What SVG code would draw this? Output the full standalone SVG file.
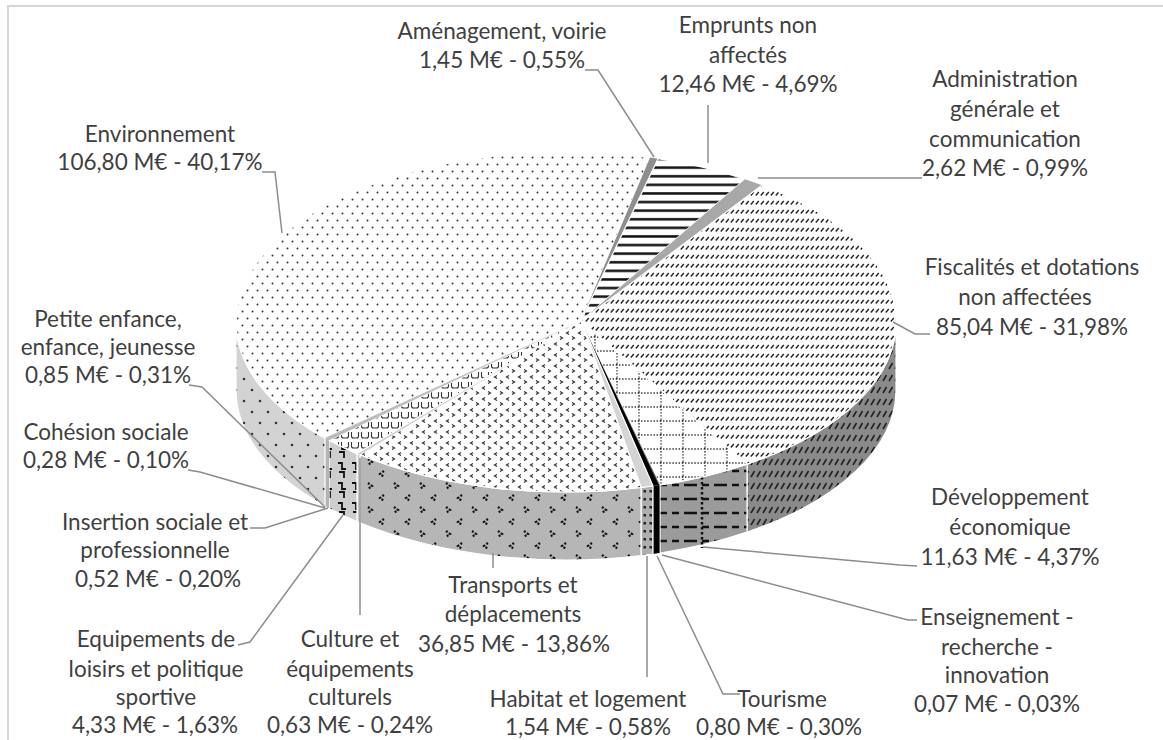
<svg xmlns="http://www.w3.org/2000/svg" width="1163" height="740" viewBox="0 0 1163 740">
<style>
.lbl{font-family:Lato,"Liberation Sans",sans-serif;font-size:22.5px;fill:#3f3f3f;text-anchor:middle}
.ldr{fill:none;stroke:#8c8c8c;stroke-width:1.5}
.sl{stroke:#ffffff;stroke-width:1.2;stroke-linejoin:round}
</style>
<defs>
<pattern id="pEnvTop" width="10" height="14" patternUnits="userSpaceOnUse">
<rect width="10" height="14" fill="#fff"/>
<circle cx="2.5" cy="3.5" r="1" fill="#333"/><circle cx="7.5" cy="10.5" r="1" fill="#333"/>
</pattern>
<pattern id="pEnvWall" width="16" height="22" patternUnits="userSpaceOnUse">
<rect width="16" height="22" fill="#d3d3d3"/>
<circle cx="4" cy="5" r="1.3" fill="#333"/><circle cx="12" cy="16" r="1.3" fill="#333"/>
</pattern>
<pattern id="pTrTop" width="12" height="11" patternUnits="userSpaceOnUse">
<rect width="12" height="11" fill="#fff"/>
<path d="M5,1.5 L2.5,3 L5,4.5 M8,6.5 L10.5,8 L8,9.5" fill="none" stroke="#333" stroke-width="1.2"/>
</pattern>
<pattern id="pTrWall" width="26" height="24" patternUnits="userSpaceOnUse">
<rect width="26" height="24" fill="#b6b6b6"/>
<path d="M4,3 L8,6 L4,9 M20,15 L16,18 L20,21" fill="none" stroke="#111" stroke-width="2.2" stroke-dasharray="2 1.5"/>
</pattern>
<pattern id="pFiTop" width="5" height="9" patternUnits="userSpaceOnUse">
<rect width="5" height="9" fill="#fff"/>
<path d="M0.8,6.5 L3.8,3" stroke="#222" stroke-width="1.4"/>
</pattern>
<pattern id="pFiWall" width="6" height="12" patternUnits="userSpaceOnUse">
<rect width="6" height="12" fill="#8a8a8a"/>
<path d="M1,9 L4.5,3" stroke="#1e1e1e" stroke-width="1.5"/>
</pattern>
<pattern id="pDevTop" width="22" height="14" patternUnits="userSpaceOnUse">
<rect width="22" height="14" fill="#fff"/>
<path d="M0,1 H22 M1,0 V14" stroke="#222" stroke-width="1.3" stroke-dasharray="1.3 1.8"/>
</pattern>
<pattern id="pDevWall" width="30" height="28" patternUnits="userSpaceOnUse">
<rect width="30" height="28" fill="#9b9b9b"/>
<path d="M0,9 H30 M0,23 H30" stroke="#111" stroke-width="2.5" stroke-dasharray="7 5"/>
</pattern>
<pattern id="pEmp" width="10" height="8.6" patternUnits="userSpaceOnUse">
<rect width="10" height="8.6" fill="#fff"/>
<rect y="3" width="10" height="2.5" fill="#111"/>
</pattern>
<pattern id="pEqTop" width="10" height="10" patternUnits="userSpaceOnUse">
<rect width="10" height="10" fill="#fff"/>
<path d="M1.5,2 V6 Q1.5,8 3.5,8 H6.5 Q8.5,8 8.5,6 V2" fill="none" stroke="#333" stroke-width="1.1"/>
</pattern>
<pattern id="pEqWall" width="14" height="20" patternUnits="userSpaceOnUse">
<rect width="14" height="20" fill="#cdcdcd"/>
<path d="M2,3 H6 V9 H10 M3,12 H8 V18" fill="none" stroke="#111" stroke-width="1.8"/>
</pattern>
<pattern id="pHabWall" width="6" height="8" patternUnits="userSpaceOnUse">
<rect width="6" height="8" fill="#aeaeae"/>
<rect x="1.5" y="2" width="2.5" height="2.5" fill="#222"/>
</pattern>
</defs>

<rect x="0" y="0" width="1163" height="740" fill="#fff"/>
<rect x="8" y="6" width="1160" height="800" fill="none" stroke="#d6d6d6" stroke-width="2"/>

<g id="walls">
<path class="sl" fill="url(#pFiWall)" d="M896,322 A330,170 0 0 1 747,464.1 L747,532.1 A330,170 0 0 0 896,390 Z"/>
<path class="sl" fill="url(#pDevWall)" d="M747,464.1 A330,170 0 0 1 660,485 L660,553 A330,170 0 0 0 747,532.1 Z"/>
<path d="M702,477 V548" stroke="#111" stroke-width="2.5" stroke-dasharray="2.5 2.5"/>
<path fill="#666" d="M660,485 A330,170 0 0 1 659,485.1 L659,553.1 A330,170 0 0 0 660,553 Z"/>
<path fill="#000" d="M659,485.1 A330,170 0 0 1 653,486 L653,554 A330,170 0 0 0 659,553.1 Z"/>
<path class="sl" fill="url(#pHabWall)" d="M653,486 A330,170 0 0 1 641,487.5 L641,555.5 A330,170 0 0 0 653,554 Z"/>
<path class="sl" fill="url(#pTrWall)" d="M641,487.5 A330,170 0 0 1 360,454.8 L360,522.8 A330,170 0 0 0 641,555.5 Z"/>
<path class="sl" fill="#c8c8c8" d="M360,454.8 A330,170 0 0 1 357,453.6 L357,521.6 A330,170 0 0 0 360,522.8 Z"/>
<path class="sl" fill="url(#pEqWall)" d="M357,453.6 A330,170 0 0 1 329,440.3 L329,508.3 A330,170 0 0 0 357,521.6 Z"/>
<path fill="#b5b5b5" d="M329,440.3 A330,170 0 0 1 325,438.1 L325,506.1 A330,170 0 0 0 329,508.3 Z"/>
<path class="sl" fill="url(#pEnvWall)" d="M325,438.1 A330,170 0 0 1 236,322 L236,390 A330,170 0 0 0 325,506.1 Z"/>
</g>

<g id="slice-environnement"><path class="sl" fill="url(#pEnvTop)" d="M581,321 L325,438.1 A330,170 0 0 1 650,157.6 Z"/></g>
<g id="slice-amenagement"><path fill="#8f8f8f" d="M581,321 L650,157.6 A330,170 0 0 1 658,158.7 Z"/></g>
<g id="slice-emprunts"><path class="sl" fill="url(#pEmp)" d="M581,321 L658,158.7 A330,170 0 0 1 745,179.2 Z"/></g>
<g id="slice-administration"><path fill="#a8a8a8" d="M581,321 L745,179.2 A330,170 0 0 1 762,185.2 Z"/></g>
<g id="slice-fiscalites"><path class="sl" fill="url(#pFiTop)" d="M581,321 L762,185.2 A330,170 0 0 1 747,464.1 Z"/></g>
<g id="slice-developpement"><path class="sl" fill="url(#pDevTop)" d="M581,321 L747,464.1 A330,170 0 0 1 660,485 Z"/></g>
<g id="slice-enseignement"><path fill="#666" d="M581,321 L660,485 A330,170 0 0 1 659,485.1 Z"/></g>
<g id="slice-tourisme"><path fill="#000" d="M581,321 L659,485.1 A330,170 0 0 1 653,486 Z"/></g>
<g id="slice-habitat"><path class="sl" fill="#d4d4d4" d="M581,321 L653,486 A330,170 0 0 1 641,487.5 Z"/></g>
<g id="slice-transports"><path class="sl" fill="url(#pTrTop)" d="M581,321 L641,487.5 A330,170 0 0 1 360,454.8 Z"/></g>
<g id="slice-culture"><path fill="#d0d0d0" d="M581,321 L360,454.8 A330,170 0 0 1 357,453.6 Z"/></g>
<g id="slice-equipements"><path class="sl" fill="url(#pEqTop)" d="M581,321 L357,453.6 A330,170 0 0 1 329,440.3 Z"/></g>
<g id="slice-insertion"><path fill="#bbbbbb" d="M581,321 L329,440.3 A330,170 0 0 1 327.5,439.5 Z"/></g>
<g id="slice-cohesion"><path fill="#999" d="M581,321 L327.5,439.5 A330,170 0 0 1 326.5,438.9 Z"/></g>
<g id="slice-petite-enfance"><path fill="#bbbbbb" d="M581,321 L326.5,438.9 A330,170 0 0 1 325,438.1 Z"/></g>

<g id="connectors">
<polyline class="ldr" points="262,172 275,172 282,233"/>
<polyline class="ldr" points="585,70 598,70 654,157"/>
<polyline class="ldr" points="708,105 708,163"/>
<polyline class="ldr" points="758,178 922,178"/>
<polyline class="ldr" points="893,322 915,334 930,334"/>
<polyline class="ldr" points="703,547 900,565 917,566"/>
<polyline class="ldr" points="662,555 908,620 917,620"/>
<polyline class="ldr" points="657,556 723,694 740,694"/>
<polyline class="ldr" points="647,556 647,677"/>
<polyline class="ldr" points="493,553 493,568"/>
<polyline class="ldr" points="360,458 360,615"/>
<polyline class="ldr" points="343,515 250,642 238,645"/>
<polyline class="ldr" points="328,508 265,528 250,528"/>
<polyline class="ldr" points="325,508 200,472 188,470"/>
<polyline class="ldr" points="325,507 202,387 189,385"/>
</g>

<g id="label-environnement"><text class="lbl" x="160" y="142">Environnement</text><text class="lbl" x="160" y="170">106,80 M€ - 40,17%</text></g>
<g id="label-amenagement"><text class="lbl" x="502" y="39">Aménagement, voirie</text><text class="lbl" x="502" y="68">1,45 M€ - 0,55%</text></g>
<g id="label-emprunts"><text class="lbl" x="748" y="33">Emprunts non</text><text class="lbl" x="748" y="63">affectés</text><text class="lbl" x="748" y="92">12,46 M€ - 4,69%</text></g>
<g id="label-administration"><text class="lbl" x="1005" y="87">Administration</text><text class="lbl" x="1005" y="117">générale et</text><text class="lbl" x="1005" y="147">communication</text><text class="lbl" x="1005" y="176">2,62 M€ - 0,99%</text></g>
<g id="label-fiscalites"><text class="lbl" x="1032" y="275">Fiscalités et dotations</text><text class="lbl" x="1025" y="305">non affectées</text><text class="lbl" x="1032" y="335">85,04 M€ - 31,98%</text></g>
<g id="label-developpement"><text class="lbl" x="1010" y="505">Développement</text><text class="lbl" x="1010" y="535">économique</text><text class="lbl" x="1010" y="565">11,63 M€ - 4,37%</text></g>
<g id="label-enseignement"><text class="lbl" x="997" y="625">Enseignement -</text><text class="lbl" x="997" y="655">recherche -</text><text class="lbl" x="997" y="683">innovation</text><text class="lbl" x="997" y="712">0,07 M€ - 0,03%</text></g>
<g id="label-tourisme"><text class="lbl" x="782" y="707">Tourisme</text><text class="lbl" x="779" y="735">0,80 M€ - 0,30%</text></g>
<g id="label-habitat"><text class="lbl" x="588" y="707">Habitat et logement</text><text class="lbl" x="588" y="735">1,54 M€ - 0,58%</text></g>
<g id="label-transports"><text class="lbl" x="513" y="593">Transports et</text><text class="lbl" x="513" y="622">déplacements</text><text class="lbl" x="514" y="652">36,85 M€ - 13,86%</text></g>
<g id="label-culture"><text class="lbl" x="350" y="647">Culture et</text><text class="lbl" x="350" y="677">équipements</text><text class="lbl" x="350" y="705">culturels</text><text class="lbl" x="350" y="733">0,63 M€ - 0,24%</text></g>
<g id="label-equipements"><text class="lbl" x="156" y="647">Equipements de</text><text class="lbl" x="156" y="677">loisirs et politique</text><text class="lbl" x="156" y="705">sportive</text><text class="lbl" x="155" y="733">4,33 M€ - 1,63%</text></g>
<g id="label-insertion"><text class="lbl" x="155" y="530">Insertion sociale et</text><text class="lbl" x="155" y="558">professionnelle</text><text class="lbl" x="158" y="587">0,52 M€ - 0,20%</text></g>
<g id="label-cohesion"><text class="lbl" x="106" y="440">Cohésion sociale</text><text class="lbl" x="106" y="468">0,28 M€ - 0,10%</text></g>
<g id="label-petite-enfance"><text class="lbl" x="108" y="327">Petite enfance,</text><text class="lbl" x="108" y="355">enfance, jeunesse</text><text class="lbl" x="108" y="383">0,85 M€ - 0,31%</text></g>
</svg>
